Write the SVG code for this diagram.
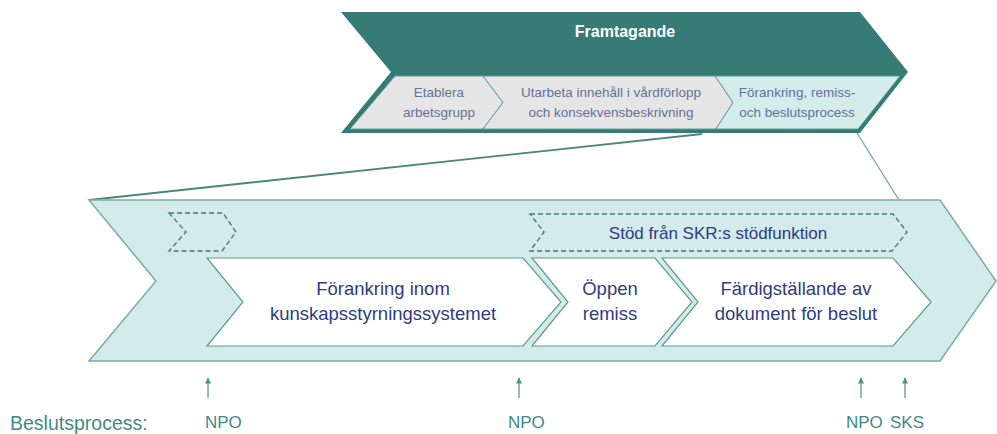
<svg xmlns="http://www.w3.org/2000/svg" width="997" height="434" viewBox="0 0 997 434">
  <defs>
    <style>
      .band-text { font-family: "Liberation Sans", Arial, sans-serif; font-size: 13.5px; fill: #65709a; text-anchor: middle; }
      .box-text { font-family: "Liberation Sans", Arial, sans-serif; font-size: 18.5px; fill: #2e3d7c; text-anchor: middle; }
      .step { fill: #ffffff; stroke: #5f9a96; stroke-width: 1.2; }
      .dashed { fill: none; stroke: #4b7c78; stroke-width: 1.4; stroke-dasharray: 5 3; }
      .seg-grey { fill: #e5e5e5; stroke: #5e9d98; stroke-width: 1; }
      .seg-cyan { fill: #d4ecea; stroke: #5e9d98; stroke-width: 1; }
      .label { font-family: "Liberation Sans", Arial, sans-serif; font-size: 17px; fill: #3f8a85; }
      .tick { stroke: #4f8f8a; stroke-width: 1.2; fill: none; }
    </style>
    <marker id="arrowhead" viewBox="0 0 10 10" refX="9" refY="5" markerWidth="7" markerHeight="6" orient="auto" markerUnits="userSpaceOnUse">
      <path d="M0,0 L10,5 L0,10 z" fill="#4f8f8a"/>
    </marker>
  </defs>

  <!-- Zoom lines joining the phase band to the detailed process -->
  <g id="connectors">
    <line x1="89" y1="200" x2="702" y2="134" stroke="#4a8582" stroke-width="1.8"/>
    <line x1="857" y1="133" x2="899" y2="200" stroke="#6aa7a3" stroke-width="1.3"/>
  </g>

  <!-- Overall phase: Framtagande -->
  <g id="framtagande">
    <polygon points="341,12 860,12 908,72 860,133 341,133 391,72" fill="#367b76"/>
    <text x="625" y="37" font-family="Liberation Sans, Arial, sans-serif" font-size="16" font-weight="bold" fill="#ffffff" text-anchor="middle">Framtagande</text>
  </g>

  <g id="etablera">
    <polygon class="seg-grey" points="395,76 483,76 503,102.5 483,129 350,129"/>
    <text class="band-text" x="439" y="96.5">Etablera</text>
    <text class="band-text" x="439" y="117">arbetsgrupp</text>
  </g>

  <g id="utarbeta">
    <polygon class="seg-grey" points="483,76 715,76 733,102.5 716,129 483,129 503,102.5"/>
    <text class="band-text" x="611" y="96.5">Utarbeta innehåll i vårdförlopp</text>
    <text class="band-text" x="611" y="117">och konsekvensbeskrivning</text>
  </g>

  <g id="forankring-remiss">
    <polygon class="seg-cyan" points="715,76 900,76 858,129 716,129 733,102.5"/>
    <text class="band-text" x="797" y="96.5">Förankring, remiss-</text>
    <text class="band-text" x="797" y="117">och beslutsprocess</text>
  </g>

  <!-- Detailed process chevron -->
  <g id="process">
    <polygon points="89,200 940,200 996,281 940,361 89,361 156,281" fill="#d3ebea" stroke="#79aca8" stroke-width="1.5"/>
  </g>

  <g id="stod-tidig">
    <polygon class="dashed" points="169,213 223,213 236,232 222,251 169,251 186,232"/>
  </g>

  <g id="stod-skr">
    <polygon class="dashed" points="530,214 893,214 907,232 892,251 530,251 544,232"/>
    <text x="718" y="239" font-family="Liberation Sans, Arial, sans-serif" font-size="17" fill="#2e3d7c" text-anchor="middle">Stöd från SKR:s stödfunktion</text>
  </g>

  <g id="forankring-inom">
    <polygon class="step" points="207,258 523,258 561,302 523,346 207,346 243,302"/>
    <text class="box-text" x="383" y="295">Förankring inom</text>
    <text class="box-text" x="383" y="320">kunskapsstyrningssystemet</text>
  </g>

  <g id="oppen-remiss">
    <polygon class="step" points="532,258 655,258 692,302 655,346 532,346 568,302"/>
    <text class="box-text" x="610" y="295">Öppen</text>
    <text class="box-text" x="610" y="320">remiss</text>
  </g>

  <g id="fardigstallande">
    <polygon class="step" points="662,258 893,258 931,302 893,346 662,346 698,302"/>
    <text class="box-text" x="796" y="295">Färdigställande av</text>
    <text class="box-text" x="796" y="320">dokument för beslut</text>
  </g>

  <!-- Decision points -->
  <g id="beslutsprocess">
    <text x="10" y="430" font-family="Liberation Sans, Arial, sans-serif" font-size="19.5" fill="#3f8a85">Beslutsprocess:</text>
    <line class="tick" x1="208" y1="398" x2="208" y2="378" marker-end="url(#arrowhead)"/>
    <line class="tick" x1="519" y1="398" x2="519" y2="378" marker-end="url(#arrowhead)"/>
    <line class="tick" x1="861" y1="398" x2="861" y2="378" marker-end="url(#arrowhead)"/>
    <line class="tick" x1="905" y1="398" x2="905" y2="378" marker-end="url(#arrowhead)"/>
    <text class="label" x="205" y="428">NPO</text>
    <text class="label" x="508" y="428">NPO</text>
    <text class="label" x="846" y="428">NPO</text>
    <text class="label" x="890" y="428">SKS</text>
  </g>
</svg>
